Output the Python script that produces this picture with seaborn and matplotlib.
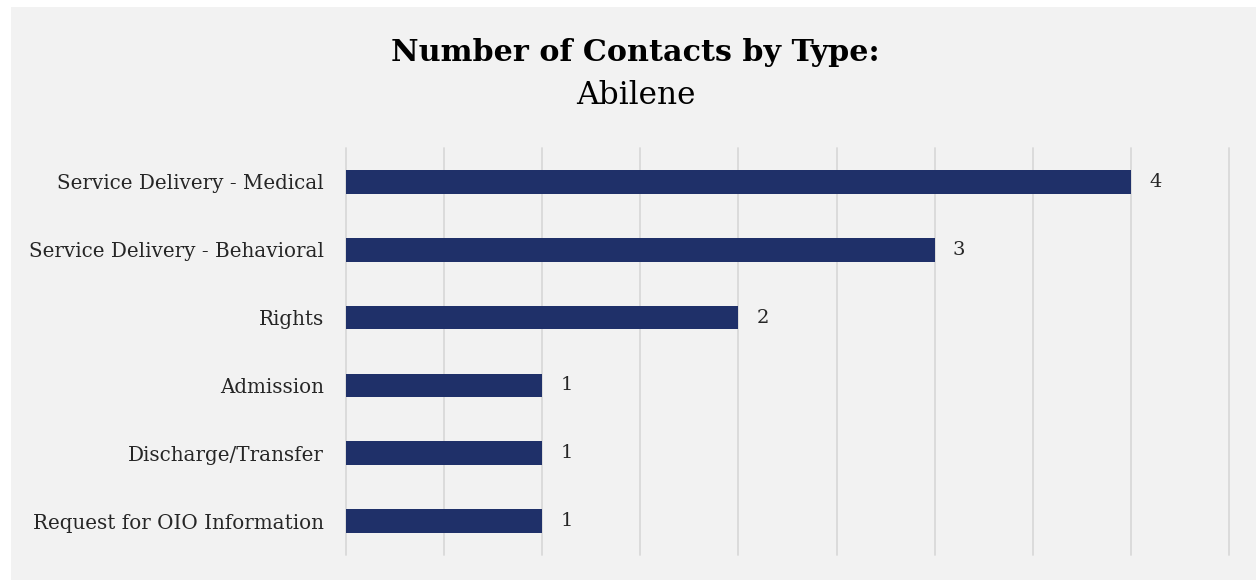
import matplotlib
matplotlib.use("Agg")
import matplotlib.pyplot as plt
import seaborn as sns
import pandas as pd
from matplotlib.patches import Rectangle

categories = [
    "Service Delivery - Medical",
    "Service Delivery - Behavioral",
    "Rights",
    "Admission",
    "Discharge/Transfer",
    "Request for OIO Information",
]
contacts = [4, 3, 2, 1, 1, 1]

df = pd.DataFrame({"category": categories, "contacts": contacts})

sns.set_theme(style="white")
plt.rcParams["font.family"] = ["DejaVu Serif"]

BG = "#F2F2F2"
BAR = "#1F3069"
GRID = "#D9D9D9"
TEXT = "#262626"

fig = plt.figure(figsize=(12.56, 5.8), dpi=100)
fig.patch.set_facecolor("white")
fig.add_artist(Rectangle((11 / 1256, 0), 1 - 11 / 1256, 1 - 7 / 580,
                         transform=fig.transFigure, facecolor=BG,
                         edgecolor="none", zorder=-10))

ax = fig.add_axes([346 / 1256, 1 - 555 / 580, (1229 - 346) / 1256, (555 - 148) / 580])
ax.set_facecolor("none")

sns.barplot(data=df, x="contacts", y="category", orient="h", color=BAR,
            width=0.35, saturation=1, linewidth=0, ax=ax, zorder=3)

ax.set_xlim(0, 4.5)
ax.set_ylim(5.5, -0.5)
ax.set_xticks([i * 0.5 for i in range(10)])
ax.xaxis.grid(True, color=GRID, linewidth=1.3, zorder=0)
for gl in ax.get_xgridlines():
    gl.set_clip_on(False)
ax.set_xticklabels([])
ax.tick_params(axis="x", length=0)
ax.tick_params(axis="y", length=0, pad=16, labelsize=14.3, labelcolor=TEXT)
ax.set_xlabel("")
ax.set_ylabel("")
for s in ax.spines.values():
    s.set_visible(False)

for i, v in enumerate(contacts):
    ax.annotate(f"{v}", xy=(v, i), xytext=(13, 0), textcoords="offset points",
                va="center", ha="left", fontsize=14, color=TEXT)

fig.text(0.506, 0.91, "Number of Contacts by Type:", ha="center", va="center",
         fontsize=21.7, fontweight="bold", color="black")
fig.text(0.506, 0.835, "Abilene", ha="center", va="center",
         fontsize=22.5, color="black")

fig.savefig("out.png", dpi=100, facecolor=fig.get_facecolor())
